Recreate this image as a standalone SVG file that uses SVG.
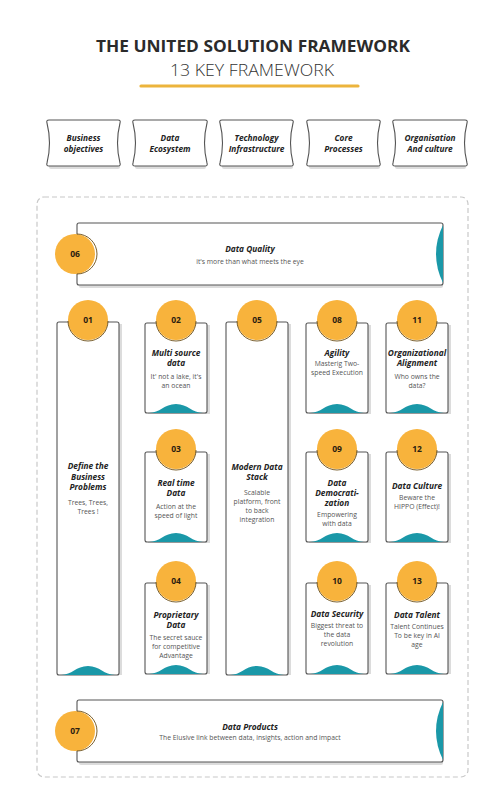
<svg xmlns="http://www.w3.org/2000/svg" width="501" height="800" viewBox="0 0 501 800">
<style>
.t{font-family:"Open Sans","Liberation Sans",sans-serif;text-anchor:middle}
.h{font-weight:700;font-style:italic;font-size:8.3px;fill:#222}
.b{font-size:6.8px;fill:#555}
.n{font-weight:700;font-size:8.5px;fill:#2a2010}
.box{fill:#fff;stroke:#555;stroke-width:1.1}
.sh{fill:#dcdcdc}
.teal{fill:#1a98a8}
.circ{fill:#f8b33c}
.arc{fill:none;stroke:#6b4e16;stroke-width:0.9}
.hb{fill:#fff;stroke:#555;stroke-width:1.1}
</style>
<rect width="501" height="800" fill="#fff"/>
<g id="title">
<text class="t" x="253" y="52" font-size="16.5" font-weight="700" fill="#2b2b2b" textLength="314" lengthAdjust="spacingAndGlyphs">THE UNITED SOLUTION FRAMEWORK</text>
<text class="t" x="252" y="76" font-size="16.5" font-weight="300" fill="#333" textLength="164" lengthAdjust="spacingAndGlyphs">13 KEY FRAMEWORK</text>
<line x1="141" y1="86" x2="358" y2="86" stroke="#ecb43c" stroke-width="3.2" stroke-linecap="round"/>
</g>
<g id="headers">
<g id="h1"><rect class="sh" x="49" y="164" width="71" height="5" rx="2"/><path class="hb" d="M49,120 L118,120 Q121,120 120,123 Q115,143 120,163 Q121,166 118,166 L49,166 Q46,166 47,163 Q52,143 47,123 Q46,120 49,120 Z"/><text class="t h" x="83.5" y="141">Business</text><text class="t h" x="83.5" y="152">objectives</text></g>
<g id="h2"><rect class="sh" x="135" y="164" width="71" height="5" rx="2"/><path class="hb" d="M135,120 L205,120 Q208,120 207,123 Q202,143 207,163 Q208,166 205,166 L135,166 Q132,166 133,163 Q138,143 133,123 Q132,120 135,120 Z"/><text class="t h" x="170" y="141">Data</text><text class="t h" x="170" y="152">Ecosystem</text></g>
<g id="h3"><rect class="sh" x="222" y="164" width="71" height="5" rx="2"/><path class="hb" d="M222,120 L291,120 Q294,120 293,123 Q288,143 293,163 Q294,166 291,166 L222,166 Q219,166 220,163 Q225,143 220,123 Q219,120 222,120 Z"/><text class="t h" x="256.5" y="141">Technology</text><text class="t h" x="256.5" y="152">Infrastructure</text></g>
<g id="h4"><rect class="sh" x="309" y="164" width="71" height="5" rx="2"/><path class="hb" d="M309,120 L378,120 Q381,120 380,123 Q375,143 380,163 Q381,166 378,166 L309,166 Q306,166 307,163 Q312,143 307,123 Q306,120 309,120 Z"/><text class="t h" x="343.5" y="141">Core</text><text class="t h" x="343.5" y="152">Processes</text></g>
<g id="h5"><rect class="sh" x="395" y="164" width="71" height="5" rx="2"/><path class="hb" d="M395,120 L465,120 Q468,120 467,123 Q462,143 467,163 Q468,166 465,166 L395,166 Q392,166 393,163 Q398,143 393,123 Q392,120 395,120 Z"/><text class="t h" x="430" y="141">Organisation</text><text class="t h" x="430" y="152">And culture</text></g>
</g>
<rect id="container" x="37" y="197" width="431" height="580" rx="7" fill="none" stroke="#c8c8c8" stroke-width="1.2" stroke-dasharray="5 3"/>
<g id="connectors"></g>
<g id="n06">
<rect class="sh" x="79" y="284" width="364" height="4" rx="2"/>
<rect class="box" x="77" y="223" width="366" height="62" rx="2"/>
<path class="teal" d="M443,225 Q429,254 443,283 Z"/>
<circle class="circ" cx="75" cy="254" r="20"/>
<path class="arc" d="M77,234 A20,20 0 0 1 77,274"/>
<text class="t n" x="75" y="257">06</text>
<text class="t h" x="250" y="252">Data Quality</text>
<text class="t b" x="250" y="264">it's more than what meets the eye</text>
</g>
<g id="n07">
<rect class="sh" x="79" y="761" width="364" height="4" rx="2"/>
<rect class="box" x="77" y="700" width="366" height="62" rx="2"/>
<path class="teal" d="M443,702 Q429,731 443,760 Z"/>
<circle class="circ" cx="75" cy="731" r="20"/>
<path class="arc" d="M77,711 A20,20 0 0 1 77,751"/>
<text class="t n" x="75" y="734">07</text>
<text class="t h" x="250" y="730">Data Products</text>
<text class="t b" x="250" y="740">The Elusive link between data, insights, action and impact</text>
</g>
<g id="n01">
<rect class="sh" x="60" y="324" width="62" height="351"/>
<rect class="box" x="57" y="322" width="62" height="353" rx="2"/>
<path class="teal" d="M61,675 C72,675 76,666 88,666 C100,666 104,675 115,675 Z"/>
<circle class="circ" cx="88" cy="320" r="20"/>
<path class="arc" d="M68,321 A20,20 0 0 0 108,321"/>
<text class="t n" x="88" y="323">01</text>
<text class="t h" x="88" y="469">Define the</text><text class="t h" x="88" y="479.5">Business</text><text class="t h" x="88" y="490">Problems</text>
<text class="t b" x="88" y="505">Trees, Trees,</text><text class="t b" x="88" y="514">Trees !</text>
</g>
<g id="n02">
<rect class="sh" x="148" y="325" width="62" height="89"/>
<rect class="box" x="145" y="323" width="62" height="90" rx="2"/>
<path class="teal" d="M149,413 C160,413 164,404 176,404 C188,404 192,413 203,413 Z"/>
<circle class="circ" cx="176" cy="320" r="20"/>
<path class="arc" d="M156,321 A20,20 0 0 0 196,321"/>
<text class="t n" x="176" y="323">02</text>
<text class="t h" x="176" y="356">Multi source</text><text class="t h" x="176" y="366">data</text>
<text class="t b" x="176" y="379">It' not a lake, it's</text><text class="t b" x="176" y="388">an ocean</text>
</g>
<g id="n03">
<rect class="sh" x="148" y="454" width="62" height="89"/>
<rect class="box" x="145" y="452" width="62" height="90" rx="2"/>
<path class="teal" d="M149,542 C160,542 164,533 176,533 C188,533 192,542 203,542 Z"/>
<circle class="circ" cx="176" cy="449" r="20"/>
<path class="arc" d="M156,450 A20,20 0 0 0 196,450"/>
<text class="t n" x="176" y="452">03</text>
<text class="t h" x="176" y="486">Real time</text><text class="t h" x="176" y="496">Data</text>
<text class="t b" x="176" y="508.5">Action at the</text><text class="t b" x="176" y="517.5">speed of light</text>
</g>
<g id="n04">
<rect class="sh" x="148" y="585" width="62" height="89"/>
<rect class="box" x="145" y="583" width="62" height="91" rx="2"/>
<path class="teal" d="M149,674 C160,674 164,665 176,665 C188,665 192,674 203,674 Z"/>
<circle class="circ" cx="176" cy="581" r="20"/>
<path class="arc" d="M156,582 A20,20 0 0 0 196,582"/>
<text class="t n" x="176" y="584">04</text>
<text class="t h" x="176" y="618">Proprietary</text><text class="t h" x="176" y="628">Data</text>
<text class="t b" x="176" y="639.5">The secret sauce</text><text class="t b" x="176" y="648.5">for competitive</text><text class="t b" x="176" y="657.5">Advantage</text>
</g>
<g id="n05">
<rect class="sh" x="229" y="324" width="62" height="351"/>
<rect class="box" x="226" y="322" width="62" height="353" rx="2"/>
<path class="teal" d="M230,675 C241,675 245,666 257,666 C269,666 273,675 284,675 Z"/>
<circle class="circ" cx="257" cy="320" r="20"/>
<path class="arc" d="M237,321 A20,20 0 0 0 277,321"/>
<text class="t n" x="257" y="323">05</text>
<text class="t h" x="257" y="470">Modern Data</text><text class="t h" x="257" y="480">Stack</text>
<text class="t b" x="257" y="494.5">Scalable</text><text class="t b" x="257" y="503.5">platform, front</text><text class="t b" x="257" y="512.5">to back</text><text class="t b" x="257" y="521.5">integration</text>
</g>
<g id="n08">
<rect class="sh" x="309" y="325" width="62" height="89"/>
<rect class="box" x="306" y="323" width="62" height="90" rx="2"/>
<path class="teal" d="M310,413 C321,413 325,404 337,404 C349,404 353,413 364,413 Z"/>
<circle class="circ" cx="337" cy="320" r="20"/>
<path class="arc" d="M317,321 A20,20 0 0 0 357,321"/>
<text class="t n" x="337" y="323">08</text>
<text class="t h" x="337" y="356">Agility</text>
<text class="t b" x="337" y="365.5">Masterig Two-</text><text class="t b" x="337" y="374.5">speed Execution</text>
</g>
<g id="n09">
<rect class="sh" x="309" y="454" width="62" height="89"/>
<rect class="box" x="306" y="452" width="62" height="90" rx="2"/>
<path class="teal" d="M310,542 C321,542 325,533 337,533 C349,533 353,542 364,542 Z"/>
<circle class="circ" cx="337" cy="449" r="20"/>
<path class="arc" d="M317,450 A20,20 0 0 0 357,450"/>
<text class="t n" x="337" y="452">09</text>
<text class="t h" x="337" y="486">Data</text><text class="t h" x="337" y="496">Democrati-</text><text class="t h" x="337" y="506">zation</text>
<text class="t b" x="337" y="516.5">Empowering</text><text class="t b" x="337" y="525.5">with data</text>
</g>
<g id="n10">
<rect class="sh" x="309" y="585" width="62" height="89"/>
<rect class="box" x="306" y="583" width="62" height="91" rx="2"/>
<path class="teal" d="M310,674 C321,674 325,665 337,665 C349,665 353,674 364,674 Z"/>
<circle class="circ" cx="337" cy="581" r="20"/>
<path class="arc" d="M317,582 A20,20 0 0 0 357,582"/>
<text class="t n" x="337" y="584">10</text>
<text class="t h" x="337" y="617">Data Security</text>
<text class="t b" x="337" y="627.5">Biggest threat to</text><text class="t b" x="337" y="636.5">the data</text><text class="t b" x="337" y="645.5">revolution</text>
</g>
<g id="n11">
<rect class="sh" x="389" y="325" width="62" height="89"/>
<rect class="box" x="386" y="323" width="62" height="90" rx="2"/>
<path class="teal" d="M390,413 C401,413 405,404 417,404 C429,404 433,413 444,413 Z"/>
<circle class="circ" cx="417" cy="320" r="20"/>
<path class="arc" d="M397,321 A20,20 0 0 0 437,321"/>
<text class="t n" x="417" y="323">11</text>
<text class="t h" x="417" y="356">Organizational</text><text class="t h" x="417" y="366">Alignment</text>
<text class="t b" x="417" y="378.5">Who owns the</text><text class="t b" x="417" y="387.5">data?</text>
</g>
<g id="n12">
<rect class="sh" x="389" y="454" width="62" height="89"/>
<rect class="box" x="386" y="452" width="62" height="90" rx="2"/>
<path class="teal" d="M390,542 C401,542 405,533 417,533 C429,533 433,542 444,542 Z"/>
<circle class="circ" cx="417" cy="449" r="20"/>
<path class="arc" d="M397,450 A20,20 0 0 0 437,450"/>
<text class="t n" x="417" y="452">12</text>
<text class="t h" x="417" y="489">Data Culture</text>
<text class="t b" x="417" y="499.5">Beware the</text><text class="t b" x="417" y="508.5">HIPPO (Effect)!</text>
</g>
<g id="n13">
<rect class="sh" x="389" y="585" width="62" height="89"/>
<rect class="box" x="386" y="583" width="62" height="91" rx="2"/>
<path class="teal" d="M390,674 C401,674 405,665 417,665 C429,665 433,674 444,674 Z"/>
<circle class="circ" cx="417" cy="581" r="20"/>
<path class="arc" d="M397,582 A20,20 0 0 0 437,582"/>
<text class="t n" x="417" y="584">13</text>
<text class="t h" x="417" y="618">Data Talent</text>
<text class="t b" x="417" y="628.5">Talent Continues</text><text class="t b" x="417" y="637.5">To be key in AI</text><text class="t b" x="417" y="646.5">age</text>
</g>
</svg>
